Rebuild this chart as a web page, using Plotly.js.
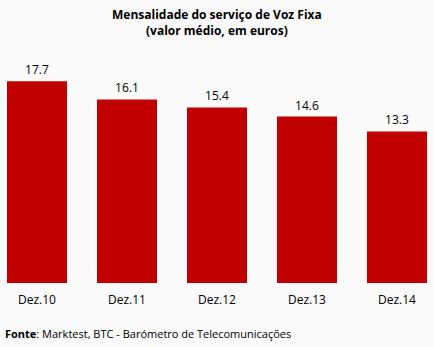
<!DOCTYPE html>
<html><head><meta charset="utf-8">
<script src="https://cdn.plot.ly/plotly-3.0.1.min.js"></script>
<style>html,body{margin:0;padding:0;background:#fafafa;}</style>
</head><body><div id="chart" style="width:434px;height:347px;"></div>
<script>
const categories = ["Dez.10", "Dez.11", "Dez.12", "Dez.13", "Dez.14"];
const values = [17.7, 16.1, 15.4, 14.6, 13.3];
const labels = ["17.7", "16.1", "15.4", "14.6", "13.3"];

const fontFam = "Open Sans, DejaVu Sans, sans-serif";
Plotly.newPlot("chart", [{
  type: "bar",
  x: categories,
  y: values,
  text: labels,
  textposition: "outside",
  textfont: {family: fontFam, size: 12, color: "#000"},
  cliponaxis: false,
  marker: {color: "#C00000"},
  hoverinfo: "none"
}], {
  width: 434, height: 347,
  paper_bgcolor: "#fafafa", plot_bgcolor: "#fafafa",
  margin: {l: 1, r: 1, t: 55, b: 64},
  bargap: 0.333,
  xaxis: {range: [-0.4, 4.4], showline: false, showgrid: false, zeroline: false,
    tickfont: {family: fontFam, size: 12, color: "#000"}, ticks: "", ticklabelstandoff: 8},
  yaxis: {range: [0, 20], visible: false, showgrid: false, zeroline: false},
  showlegend: false,
  annotations: [
    {text: "<b>Mensalidade do serviço de Voz Fixa</b>", xref: "paper", yref: "paper",
     x: 0.5, y: 1, yshift: 41, xanchor: "center", yanchor: "middle", showarrow: false,
     font: {family: fontFam, size: 12, color: "#000"}},
    {text: "<b>(valor médio, em euros)</b>", xref: "paper", yref: "paper",
     x: 0.5, y: 1, yshift: 25, xanchor: "center", yanchor: "middle", showarrow: false,
     font: {family: fontFam, size: 12, color: "#000"}},
    {text: "<b>Fonte</b>: Marktest, BTC - Barómetro de Telecomunicações",
    xref: "paper", yref: "paper", x: 0.0, y: 0, xshift: 2, yshift: -50, xanchor: "left", yanchor: "middle",
    showarrow: false, font: {family: fontFam, size: 11, color: "#000"}}]
}, {staticPlot: true});
</script></body></html>
